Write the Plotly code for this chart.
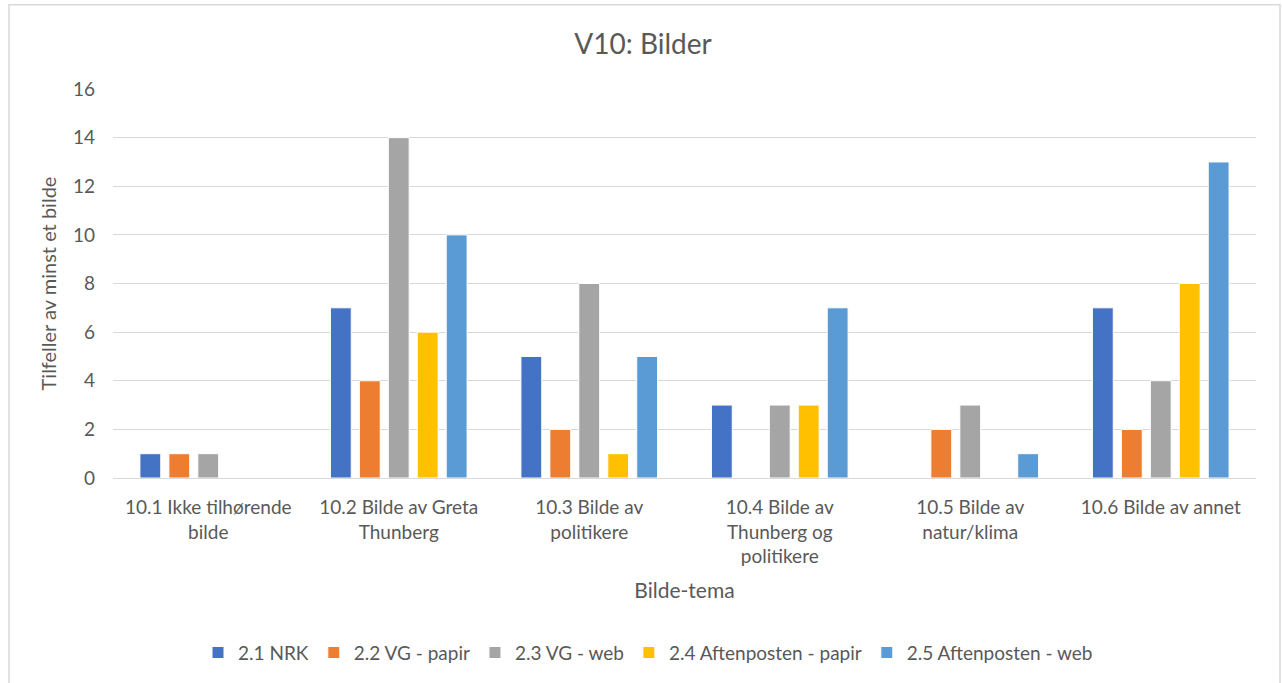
import plotly.graph_objects as go

categories = ["10.1 Ikke tilhørende<br>bilde", "10.2 Bilde av Greta<br>Thunberg", "10.3 Bilde av<br>politikere",
              "10.4 Bilde av<br>Thunberg og<br>politikere", "10.5 Bilde av<br>natur/klima", "10.6 Bilde av annet"]
series_names = ["2.1 NRK", "2.2 VG - papir", "2.3 VG - web", "2.4 Aftenposten - papir", "2.5 Aftenposten - web"]
nrk = [1, 7, 5, 3, 0, 7]
vg_papir = [1, 4, 2, 0, 2, 2]
vg_web = [1, 14, 8, 3, 3, 4]
aften_papir = [0, 6, 1, 3, 0, 8]
aften_web = [0, 10, 5, 7, 1, 13]
colors = ["#4472C4", "#ED7D31", "#A5A5A5", "#FFC000", "#5B9BD5"]
y_ticks = [0, 2, 4, 6, 8, 10, 12, 14, 16]

fig = go.Figure()
for name, vals, c in zip(series_names, [nrk, vg_papir, vg_web, aften_papir, aften_web], colors):
    fig.add_trace(go.Bar(x=categories, y=vals, name=name, marker=dict(color=c, line=dict(color="white", width=1))))

W, H = 1282, 683
l, r, t, b = 113, 26, 89, 202
pw, ph = W - l - r, H - t - b
TXT = "#595959"

fig.update_layout(
    width=W, height=H,
    margin=dict(l=l, r=r, t=t, b=b),
    paper_bgcolor="white", plot_bgcolor="white",
    font=dict(family="Lato, Open Sans, sans-serif", color=TXT, size=18),
    title=dict(text="V10: Bilder", x=(643 - l) / pw, xanchor="center", y=1 - 44 / H, yanchor="middle",
               xref="paper", font=dict(size=28, color=TXT)),
    barmode="group", bargap=0.24, bargroupgap=0.28,
    xaxis=dict(showgrid=False, showline=False, ticks="", tickfont=dict(size=19, color=TXT),
               ticklabelstandoff=16,
               title=dict(text="Bilde-tema", font=dict(size=21, color=TXT), standoff=16)),
    yaxis=dict(range=[0, 16], tickvals=y_ticks, showgrid=True, gridcolor="#D9D9D9", gridwidth=1,
               zeroline=True, zerolinecolor="#D9D9D9", zerolinewidth=1, ticks="",
               tickfont=dict(size=19, color=TXT), ticklabelstandoff=17,
               title=dict(text="Tilfeller av minst et bilde", font=dict(size=20, color=TXT), standoff=10)),
    legend=dict(orientation="h", x=(648 - l) / pw, xanchor="center", y=-(657 - 481) / ph, yanchor="middle",
                font=dict(size=19, color=TXT), itemwidth=30, traceorder="normal"),
    shapes=[dict(type="rect", xref="paper", yref="paper",
                 x0=(9 - l) / pw, x1=(1280 - l) / pw, y0=(481 - 700) / ph, y1=(481 - 4) / ph,
                 line=dict(color="#D9D9D9", width=1.5), fillcolor="rgba(0,0,0,0)", layer="below")],
)

fig.write_html("out.html", config={"displayModeBar": False},
               post_script="document.body.style.margin='0';document.body.style.overflow='hidden';")
